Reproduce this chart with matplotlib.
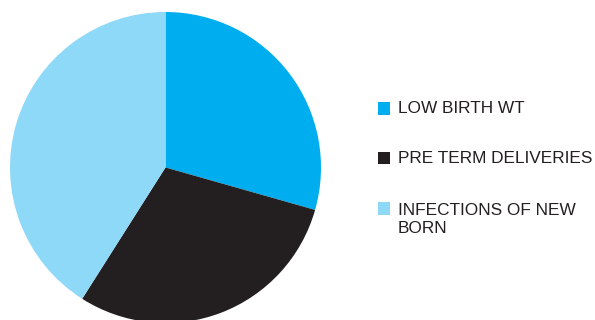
import matplotlib
matplotlib.use("Agg")
import matplotlib.pyplot as plt
from matplotlib.patches import Rectangle

categories = ["LOW BIRTH WT", "PRE TERM DELIVERIES", "INFECTIONS OF NEW\nBORN"]
values = [29.4, 29.6, 41.0]
colors = ["#00AEEF", "#231F20", "#8ED8F8"]

W, H = 595, 320
fig = plt.figure(figsize=(W / 100, H / 100), dpi=100)
plt.rcParams['font.family'] = ['Liberation Sans', 'DejaVu Sans']

cx, cy, r = 165.5, 167.5, 155.5
ax = fig.add_axes([(cx - r) / W, (H - cy - r) / H, 2 * r / W, 2 * r / H])
ax.pie(values, colors=colors, startangle=90, counterclock=False, radius=1,
       wedgeprops=dict(linewidth=0))
ax.set_xlim(-1, 1)
ax.set_ylim(-1, 1)
ax.axis("off")

# legend drawn manually in pixel positions (baseline of last line)
baselines = [113.3, 163.0, 233.3]
tops = [101.7, 151.5, 201.7]
for lab, col, top, base in zip(categories, colors, tops, baselines):
    fig.add_artist(Rectangle((377.5 / W, (H - top - 12.8) / H), 12.8 / W, 12.8 / H,
                             transform=fig.transFigure, facecolor=col, edgecolor="none"))
    fig.text(398 / W, (H - base) / H, lab, fontsize=12.45, color="#231F20",
             ha="left", va="baseline", linespacing=1.3,
             multialignment="left")

fig.savefig("out.png", dpi=100)
